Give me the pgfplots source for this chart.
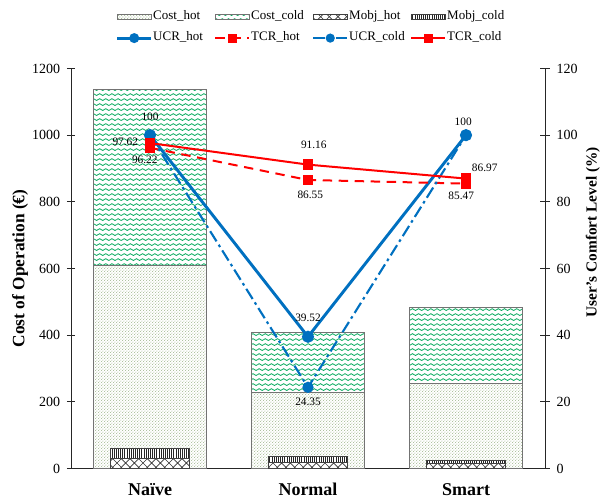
\documentclass[border=0pt]{standalone}
\usepackage{pgfplots}
\pgfplotsset{compat=1.18}
\usepackage{fontspec}
\setmainfont{Liberation Serif}
\usetikzlibrary{patterns}

\definecolor{ucrblue}{RGB}{0,112,192}
\definecolor{hotdot}{RGB}{115,150,90}
\definecolor{coldwave}{RGB}{10,170,95}

\pgfdeclarepatternformonly{costdots}{\pgfqpoint{0pt}{0pt}}{\pgfqpoint{2.4pt}{2.4pt}}{\pgfqpoint{2.4pt}{2.4pt}}{%
  \pgfpathcircle{\pgfqpoint{0.6pt}{0.6pt}}{0.42pt}%
  \pgfpathcircle{\pgfqpoint{1.8pt}{1.8pt}}{0.42pt}%
  \pgfusepath{fill}}
\pgfdeclarepatternformonly{coldwaves}{\pgfqpoint{-0.5pt}{-0.5pt}}{\pgfqpoint{5pt}{4.25pt}}{\pgfqpoint{4.6pt}{3.75pt}}{%
  \pgfsetlinewidth{0.6pt}%
  \pgfpathmoveto{\pgfqpoint{0pt}{1.8pt}}%
  \pgfpathcurveto{\pgfqpoint{0.77pt}{2.7pt}}{\pgfqpoint{1.53pt}{2.7pt}}{\pgfqpoint{2.3pt}{1.8pt}}%
  \pgfpathcurveto{\pgfqpoint{3.07pt}{0.9pt}}{\pgfqpoint{3.83pt}{0.9pt}}{\pgfqpoint{4.6pt}{1.8pt}}%
  \pgfusepath{stroke}}
\pgfdeclarepatternformonly{mobjx}{\pgfqpoint{-0.5pt}{-0.5pt}}{\pgfqpoint{7pt}{7pt}}{\pgfqpoint{6.5pt}{6.5pt}}{%
  \pgfsetlinewidth{0.5pt}%
  \pgfpathmoveto{\pgfqpoint{0pt}{0pt}}\pgfpathlineto{\pgfqpoint{6.5pt}{6.5pt}}%
  \pgfpathmoveto{\pgfqpoint{0pt}{6.5pt}}\pgfpathlineto{\pgfqpoint{6.5pt}{0pt}}%
  \pgfusepath{stroke}}
\pgfdeclarepatternformonly{mobjv}{\pgfqpoint{0pt}{-0.1pt}}{\pgfqpoint{1.6pt}{1.7pt}}{\pgfqpoint{1.6pt}{1.6pt}}{%
  \pgfsetlinewidth{0.6pt}%
  \pgfpathmoveto{\pgfqpoint{0.8pt}{-0.1pt}}\pgfpathlineto{\pgfqpoint{0.8pt}{1.7pt}}%
  \pgfusepath{stroke}}

\newcommand\legbox{\pgfpathrectangle{\pgfqpoint{0pt}{-2pt}}{\pgfqpoint{25.5pt}{4pt}}\pgfusepath{}}

\pgfplotsset{
  base/.style={scale only axis, width=355.5pt, height=300pt, xmin=-0.5, xmax=2.5,
    at={(0,0)}, anchor=south west,
    /pgf/number format/assume math mode=true, /pgf/number format/1000 sep={}},
  patchlegend/.style={legend image code/.code={\legbox\draw[##1, overlay] (0pt,-1.9pt) rectangle (25.5pt,1.9pt);}},
}
\tikzset{lbl/.style={font=\fontsize{8.5}{10}\selectfont, inner sep=0pt, anchor=center}}

\begin{document}
\begin{tikzpicture}[font=\fontsize{10.5}{12}\selectfont]
\path[use as bounding box] (-53.25pt,-25.125pt) rectangle (396.75pt,351.375pt);

% Cost bars (left axis)
\begin{axis}[base, ymin=0, ymax=1200, ybar stacked, bar width=0.715,
  axis lines*=left, axis line style={line width=0.6pt, black!85},
  xtick={0,1,2}, xticklabels={Naïve,Normal,Smart},
  major x tick style={draw=none},
  xticklabel style={font=\fontsize{13.5}{16}\selectfont\bfseries, anchor=north, inner sep=0pt, yshift=-8pt},
  ytick={0,200,...,1200}, tick align=center, major tick length=6pt,
  y tick style={line width=0.6pt, black!85},
  yticklabel style={inner sep=0pt, xshift=-5pt},
  ylabel={Cost of Operation (€)},
  ylabel style={font=\fontsize{13}{15}\selectfont\bfseries, at={(axis description cs:-0.1076,0.5)}, anchor=center},
  clip=false]
\addplot[draw=gray!90!black, line width=0.7pt, pattern=costdots, pattern color=hotdot] coordinates {(0,610) (1,229) (2,255)};
\addplot[draw=gray!90!black, line width=0.7pt, pattern=coldwaves, pattern color=coldwave] coordinates {(0,527) (1,180) (2,228)};
\end{axis}

% Mobj bars
\begin{axis}[base, ymin=0, ymax=1200, ybar stacked, bar width=0.503, hide axis]
\addplot[draw=black!75, line width=0.6pt, fill=white, postaction={pattern=mobjx, pattern color=black!80}] coordinates {(0,30) (1,17) (2,14)};
\addplot[draw=black!75, line width=0.6pt, fill=white, postaction={pattern=mobjv, pattern color=black!85}] coordinates {(0,29) (1,18) (2,9)};
\end{axis}

% Comfort lines (right axis)
\begin{axis}[base, ymin=0, ymax=120, axis x line=none, axis y line*=right,
  axis line style={line width=0.6pt, black!85},
  ytick={0,20,...,120}, tick align=center, major tick length=7pt,
  y tick style={line width=0.6pt, black!85},
  yticklabel style={inner sep=0pt, xshift=5pt},
  ylabel={User's Comfort Level (\%)},
  ylabel style={font=\fontsize{11.5}{14}\selectfont\bfseries, at={(axis description cs:1.101,0.59)}, anchor=center},
  clip=false,
  legend columns=4,
  legend cell align=left,
  legend style={at={(axis description cs:0.097,1.1458)}, anchor=north west, draw=none, fill=none,
    column sep=0pt, row sep=5.75pt, inner sep=0pt,
    nodes={inner sep=0pt, text height=7pt, text depth=3pt, font=\fontsize{9.75}{11}\selectfont}},
  legend image code/.code={\legbox\draw[mark repeat=2, mark phase=2, #1, mark size=2.6pt, overlay] plot coordinates {(0pt,0pt) (12.75pt,0pt) (25.5pt,0pt)};}
  ]
\addlegendimage{patchlegend, draw=gray!90!black, line width=0.5pt, pattern=costdots, pattern color=hotdot}
\addlegendentry{\makebox[48pt][l]{\hspace{1.5pt}Cost\_hot}}
\addlegendimage{patchlegend, draw=gray!90!black, line width=0.5pt, pattern=coldwaves, pattern color=coldwave}
\addlegendentry{\makebox[48pt][l]{\hspace{1.5pt}Cost\_cold}}
\addlegendimage{patchlegend, draw=black!75, line width=0.5pt, fill=white, postaction={pattern=mobjx, pattern color=black!80}}
\addlegendentry{\makebox[48pt][l]{\hspace{1.5pt}Mobj\_hot}}
\addlegendimage{patchlegend, draw=black!75, line width=0.5pt, fill=white, postaction={pattern=mobjv, pattern color=black!85}}
\addlegendentry{\makebox[48pt][l]{\hspace{1.5pt}Mobj\_cold}}

\addplot[color=ucrblue, line width=2.2pt, mark=*, mark size=3.4pt] coordinates {(0,100) (1,39.52) (2,100)};
\addlegendentry{\makebox[48pt][l]{\hspace{1.5pt}UCR\_hot}}
\addplot[color=red, line width=1.5pt, dash pattern=on 7pt off 5pt, mark=square*, mark size=3.1pt, mark options={solid}] coordinates {(0,96.22) (1,86.55) (2,85.47)};
\addlegendentry{\makebox[48pt][l]{\hspace{1.5pt}TCR\_hot}}
\addplot[color=ucrblue, line width=1.6pt, dash pattern=on 9pt off 3pt on 2pt off 3pt, mark=*, mark size=3.4pt, mark options={solid}] coordinates {(0,100) (1,24.35) (2,100)};
\addlegendentry{\makebox[48pt][l]{\hspace{1.5pt}UCR\_cold}}
\addplot[color=red, line width=1.5pt, mark=square*, mark size=3.1pt] coordinates {(0,97.62) (1,91.16) (2,86.97)};
\addlegendentry{\makebox[48pt][l]{\hspace{1.5pt}TCR\_cold}}

\node[lbl] at (axis cs:0,100) [yshift=13.5pt] {100};
\node[lbl, anchor=east] at (axis cs:0,97.62) [xshift=-8.8pt, yshift=0.75pt] {97.62};
\node[lbl] at (axis cs:0,96.22) [xshift=-3.9pt, yshift=-9.2pt] {96.22};
\node[lbl] at (axis cs:1,39.52) [yshift=14.1pt] {39.52};
\node[lbl] at (axis cs:1,24.35) [yshift=-11pt] {24.35};
\node[lbl] at (axis cs:1,91.16) [xshift=4.35pt, yshift=14.7pt] {91.16};
\node[lbl] at (axis cs:1,86.55) [xshift=1.7pt, yshift=-11.25pt] {86.55};
\node[lbl] at (axis cs:2,100) [xshift=-2.1pt, yshift=10.1pt] {100};
\node[lbl] at (axis cs:2,86.97) [xshift=14pt, yshift=8pt] {86.97};
\node[lbl] at (axis cs:2,85.47) [xshift=-3.6pt, yshift=-9.3pt] {85.47};
\end{axis}
\end{tikzpicture}
\end{document}
